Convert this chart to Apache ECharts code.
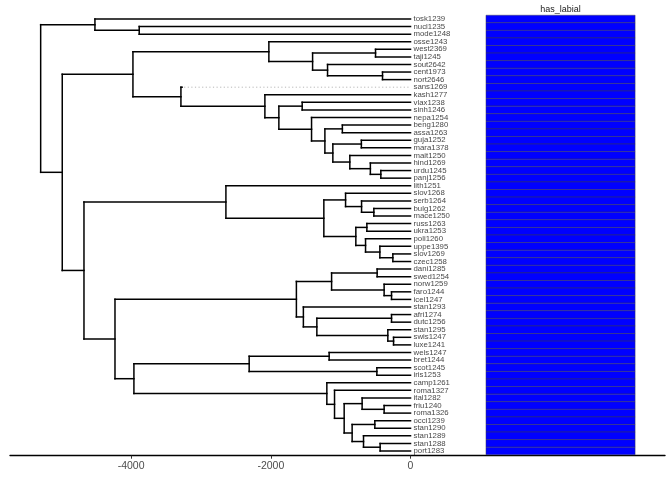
<!DOCTYPE html>
<html>
<head>
<meta charset="utf-8">
<script src="https://cdn.jsdelivr.net/npm/echarts@6/dist/echarts.min.js"></script>
<style>
html,body{margin:0;padding:0;background:#fff;}
#main{width:672px;height:480px;}
</style>
</head>
<body>
<div id="main"></div>
<script>
// Leaf labels, top to bottom
const leaves = ['tosk1239','nucl1235','mode1248','osse1243','west2369','taji1245','sout2642','cent1973','nort2646','sans1269','kash1277','vlax1238','sinh1246','nepa1254','beng1280','assa1263','guja1252','mara1378','mait1250','hind1269','urdu1245','panj1256','lith1251','slov1268','serb1264','bulg1262','mace1250','russ1263','ukra1253','poli1260','uppe1395','slov1269','czec1258','dani1285','swed1254','norw1259','faro1244','icel1247','stan1293','afri1274','dutc1256','stan1295','swis1247','luxe1241','wels1247','bret1244','scot1245','iris1253','camp1261','roma1327','ital1282','friu1240','roma1326','occi1239','stan1290','stan1289','stan1288','port1283'];
// Tip ages (all present-day except these)
const tipAges = { 'sans1269': -3270 };
// Internal nodes: [id, childA, childB, age]
const clades = [
 ['root','A','C',-5295],
 ['A','tosk1239','B',-4518],
 ['B','nucl1235','mode1248',-3884],
 ['C','D','C2',-4986],
 ['D','IR','IA',-3974],
 ['IR','osse1243','E',-2028],
 ['E','F','G',-1402],
 ['F','west2369','taji1245',-501],
 ['G','sout2642','H',-1188],
 ['H','cent1973','nort2646',-401],
 ['IA','sans1269','I',-3287],
 ['I','kash1277','J',-2085],
 ['J','K','L',-1885],
 ['K','vlax1238','sinh1246',-1551],
 ['L','nepa1254','M',-1417],
 ['M','N','O',-1226],
 ['N','beng1280','assa1263',-976],
 ['O','P','Q',-1112],
 ['P','guja1252','mara1378',-704],
 ['Q','mait1250','R',-869],
 ['R','hind1269','S',-575],
 ['S','urdu1245','panj1256',-425],
 ['C2','BS','C3',-4675],
 ['BS','lith1251','SL',-2643],
 ['SL','SS','EW',-1241],
 ['SS','slov1268','SB',-930],
 ['SB','serb1264','BM',-701],
 ['BM','bulg1262','mace1250',-525],
 ['EW','RU','WS',-783],
 ['RU','russ1263','ukra1253',-625],
 ['WS','poli1260','US',-644],
 ['US','uppe1395','SC',-439],
 ['SC','slov1269','czec1258',-253],
 ['C3','GE','IC',-4231],
 ['GE','NG','WG',-1634],
 ['NG','DS','NFI',-1130],
 ['DS','dani1285','swed1254',-478],
 ['NFI','norw1259','FI',-378],
 ['FI','faro1244','icel1247',-272],
 ['WG','stan1293','W2',-1534],
 ['W2','AD','SSL',-1341],
 ['AD','afri1274','dutc1256',-272],
 ['SSL','stan1295','SWL',-325],
 ['SWL','swis1247','luxe1241',-243],
 ['IC','CE','IT',-3960],
 ['CE','WB','SI',-2310],
 ['WB','wels1247','bret1244',-1165],
 ['SI','scot1245','iris1253',-482],
 ['IT','camp1261','It2',-1198],
 ['It2','roma1327','It3',-1088],
 ['It3','IFR','It4',-950],
 ['IFR','ital1282','FR',-693],
 ['FR','friu1240','roma1326',-378],
 ['It4','OS','SSP',-836],
 ['OS','occi1239','stan1290',-511],
 ['SSP','stan1289','SP',-673],
 ['SP','stan1288','port1283',-435]
];
// Heatmap trait values (one per leaf)
const hasLabial = leaves.map(() => 1);
const heatTitle = 'has_labial';
const tickValues = [-4000, -2000, 0];

// ---- build tree geometry in data space ----
const cladeMap = {};
clades.forEach(c => { cladeMap[c[0]] = c; });
const ageOf = id => cladeMap[id] ? cladeMap[id][3] : (tipAges[id] !== undefined ? tipAges[id] : 0);
const yCache = {};
function yOf(id) {
  if (yCache[id] !== undefined) return yCache[id];
  let v;
  if (cladeMap[id]) v = (yOf(cladeMap[id][1]) + yOf(cladeMap[id][2])) / 2;
  else v = leaves.indexOf(id) + 1;
  yCache[id] = v; return v;
}
const segs = [];
clades.forEach(c => {
  const a = c[3];
  segs.push([a, yOf(c[1]), a, yOf(c[2])]);
  [c[1], c[2]].forEach(ch => segs.push([a, yOf(ch), ageOf(ch), yOf(ch)]));
});
const dotted = [];
leaves.forEach((l, i) => { if (ageOf(l) < 0) dotted.push([ageOf(l), i + 1, 0, i + 1]); });

const HM_X0 = 1080, HM_X1 = 3215;
const heatData = hasLabial.map((v, i) => [i + 1, v]);
const labelData = leaves.map((l, i) => [0, i + 1, l]);

const font = "'Liberation Sans', Arial, Helvetica, sans-serif";
const chart = echarts.init(document.getElementById('main'), null, {renderer: 'canvas'});
chart.setOption({
  animation: false,
  backgroundColor: '#ffffff',
  grid: { left: 10, right: 7, top: 11.4, bottom: 24.3, containLabel: false },
  xAxis: {
    type: 'value', min: -5734, max: 3643, position: 'bottom',
    axisLine: { show: true, onZero: false, lineStyle: { color: '#000', width: 1.4 } },
    axisTick: { show: true, customValues: tickValues, length: 3, lineStyle: { color: '#333', width: 1 } },
    axisLabel: { show: true, customValues: tickValues, formatter: v => String(v), color: '#4d4d4d', fontSize: 10.5, fontFamily: font, margin: 5 },
    splitLine: { show: false }
  },
  yAxis: { type: 'value', inverse: true, min: 0, max: 58.62, show: false },
  series: [
    {
      type: 'custom', name: 'dotted', data: dotted, encode: { x: [0, 2], y: [1, 3] },
      renderItem: (params, api) => {
        const p1 = api.coord([api.value(0), api.value(1)]);
        const p2 = api.coord([api.value(2), api.value(3)]);
        return { type: 'line', shape: { x1: p1[0] + 2, y1: p1[1], x2: p2[0], y2: p2[1] },
          style: { stroke: '#9a9a9a', lineWidth: 0.7, lineDash: [1.2, 2.4] } };
      }
    },
    {
      type: 'custom', name: 'tree', data: segs, encode: { x: [0, 2], y: [1, 3] },
      renderItem: (params, api) => {
        const p1 = api.coord([api.value(0), api.value(1)]);
        const p2 = api.coord([api.value(2), api.value(3)]);
        return { type: 'line', shape: { x1: p1[0], y1: p1[1], x2: p2[0], y2: p2[1] },
          style: { stroke: '#000', lineWidth: 1.5, lineCap: 'square' } };
      }
    },
    {
      type: 'scatter', name: 'labels', data: labelData, symbolSize: 0,
      label: { show: true, position: 'right', distance: 3, formatter: p => p.data[2],
        color: '#111', fontSize: 7.8, fontFamily: font },
      silent: true
    },
    {
      type: 'custom', name: 'heat', data: heatData, encode: { y: 0 },
      renderItem: (params, api) => {
        const y = api.value(0);
        const p1 = api.coord([HM_X0, y - 0.5]);
        const p2 = api.coord([HM_X1, y + 0.5]);
        const children = [{ type: 'rect', shape: { x: p1[0], y: p1[1], width: p2[0] - p1[0], height: p2[1] - p1[1] },
          style: { fill: api.value(1) ? '#0000ff' : '#ffffff', stroke: 'rgba(60,60,70,0.75)', lineWidth: 0.6 } }];
        if (params.dataIndex === 0) {
          children.push({ type: 'text', x: (p1[0] + p2[0]) / 2, y: p1[1] - 1.5,
            style: { text: heatTitle, fill: '#1a1a1a', fontSize: 9, fontFamily: font, align: 'center', verticalAlign: 'bottom' } });
        }
        return { type: 'group', children };
      }
    }
  ]
});
</script>
</body>
</html>
